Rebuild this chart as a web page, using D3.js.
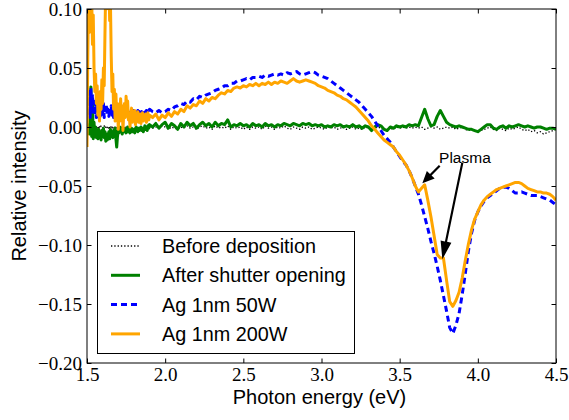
<!DOCTYPE html>
<html><head><meta charset="utf-8">
<script src="https://cdn.jsdelivr.net/npm/d3@7"></script>
<style>body{margin:0;background:#fff} svg{display:block}</style>
</head><body><svg id="c" width="569" height="420"></svg>
<script>
// ---------------- DATA ----------------
const energyFine = [
1.500,1.505,1.510,1.515,1.520,1.525,1.530,1.535,1.540,1.545,
1.550,1.555,1.560,1.565,1.570,1.575,1.580,1.585,1.590,1.595,
1.600,1.605,1.610,1.615,1.620,1.625,1.630,1.635,1.640,1.645,
1.650,1.655,1.660,1.665,1.670,1.675,1.680,1.685,1.690,1.695,
1.700,1.705,1.710,1.715,1.720,1.725,1.730,1.735,1.740,1.745,
1.750,1.755,1.760,1.765,1.770,1.775,1.780,1.785,1.790,1.795,
1.800,1.805,1.810,1.815,1.820,1.825,1.830,1.835,1.840,1.845,
1.850,1.855,1.860,1.865,1.870,1.875,1.880,1.885,1.890,1.895,
1.900];
const energyCoarse = [
1.92,1.94,1.96,1.98,2.00,2.02,2.04,2.06,2.08,2.10,
2.12,2.14,2.16,2.18,2.20,2.22,2.24,2.26,2.28,2.30,
2.32,2.34,2.36,2.38,2.40,2.42,2.44,2.46,2.48,2.50,
2.52,2.54,2.56,2.58,2.60,2.62,2.64,2.66,2.68,2.70,
2.72,2.74,2.76,2.78,2.80,2.82,2.84,2.86,2.88,2.90,
2.92,2.94,2.96,2.98,3.00,3.02,3.04,3.06,3.08,3.10,
3.12,3.14,3.16,3.18,3.20,3.22,3.24,3.26,3.28,3.30,
3.32,3.34,3.36,3.38,3.40,3.42,3.44,3.46,3.48,3.50,
3.52,3.54,3.56,3.58,3.60,3.62,3.64,3.66,3.68,3.70,
3.72,3.74,3.76,3.78,3.80,3.82,3.84,3.86,3.88,3.90,
3.92,3.94,3.96,3.98,4.00,4.02,4.04,4.06,4.08,4.10,
4.12,4.14,4.16,4.18,4.20,4.22,4.24,4.26,4.28,4.30,
4.32,4.34,4.36,4.38,4.40,4.42,4.44,4.46,4.48,4.50];

// Before deposition
const beforeFine = [
0.000,0.002,-0.001,0.001,0.003,-0.002,0.001,0.000,-0.001,0.001,
0.000,-0.001,0.001,0.000,-0.002,0.001,0.000,-0.001,0.001,0.000,
-0.001,0.000,0.001,-0.001,0.000,0.001,-0.001,0.000,-0.002,0.000,
0.001,-0.001,0.000,-0.002,0.000,-0.001,0.001,-0.001,0.000,-0.002,
-0.001,0.000,-0.002,-0.001,0.000,-0.002,-0.001,0.000,-0.001,-0.002,
0.000,-0.001,-0.002,0.000,-0.001,-0.002,-0.001,0.000,-0.002,-0.001,
-0.001,-0.002,0.000,-0.001,-0.002,-0.001,0.000,-0.001,-0.002,-0.001,
0.000,-0.001,-0.002,-0.001,0.000,-0.001,-0.002,0.000,-0.001,-0.001,
0.000];
const beforeCoarse = [
-0.001,0.000,-0.001,0.001,0.000,-0.002,0.000,-0.001,-0.002,0.000,
-0.001,0.001,-0.001,0.000,-0.002,0.000,0.001,-0.001,0.000,-0.002,
0.001,-0.001,0.000,-0.001,0.001,-0.002,0.000,-0.001,0.000,-0.002,
0.000,-0.002,0.000,-0.001,0.000,-0.002,0.001,-0.001,0.000,-0.002,
0.000,-0.001,0.001,-0.001,-0.002,0.000,-0.001,-0.002,0.000,-0.001,
0.000,-0.002,-0.001,0.000,-0.001,-0.002,0.000,-0.001,0.000,-0.002,
-0.001,0.000,-0.002,-0.001,0.000,-0.002,-0.001,-0.002,0.000,-0.001,
-0.002,-0.001,0.000,-0.001,-0.002,-0.002,-0.001,-0.002,0.000,-0.001,
0.000,-0.001,0.000,-0.001,0.000,-0.001,0.000,-0.002,-0.001,0.000,
-0.001,0.000,-0.002,-0.001,0.000,-0.001,0.000,-0.002,-0.001,0.000,
-0.002,-0.003,-0.002,-0.003,-0.004,-0.003,-0.002,-0.001,0.000,-0.002,
-0.003,-0.001,-0.002,-0.003,-0.001,-0.002,-0.001,0.000,-0.002,-0.003,
-0.002,-0.004,-0.003,-0.005,-0.004,-0.006,-0.005,-0.004,-0.003,-0.002];

// After shutter opening
const shutterFine = [
0.000,-0.004,0.002,-0.006,0.010,0.034,-0.008,0.020,-0.010,0.004,
-0.008,0.000,-0.009,-0.003,-0.010,-0.002,-0.008,-0.004,-0.011,-0.003,
-0.007,-0.001,-0.009,-0.004,-0.012,-0.006,-0.011,-0.008,-0.004,-0.010,
-0.002,-0.007,-0.004,-0.009,-0.003,-0.006,-0.001,-0.010,-0.017,-0.008,
-0.003,-0.005,0.000,-0.004,-0.002,-0.006,-0.003,-0.001,-0.004,-0.002,
-0.005,-0.003,0.000,-0.004,-0.002,-0.005,-0.003,-0.001,-0.004,-0.002,
-0.003,-0.005,-0.002,0.000,-0.003,-0.004,-0.001,-0.003,-0.002,0.000,
-0.003,-0.001,-0.004,-0.002,0.001,-0.002,0.000,-0.003,0.001,-0.001,
0.002];
const shutterCoarse = [
0.000,0.003,-0.001,0.002,0.004,-0.001,0.003,0.001,-0.002,0.003,
0.000,0.004,0.001,0.003,-0.001,0.002,0.004,0.001,0.003,0.000,
0.004,0.001,0.003,0.002,0.006,0.000,0.002,0.001,0.003,0.001,
0.002,0.000,0.003,0.001,0.002,0.000,0.003,0.001,0.002,0.000,
0.002,0.001,0.003,0.002,0.001,0.003,0.002,0.001,0.003,0.002,
0.003,0.001,0.002,0.001,0.002,0.000,0.001,0.000,0.002,0.001,
0.002,0.000,0.001,0.000,0.002,0.000,0.001,-0.001,0.001,0.000,
-0.003,0.000,0.002,0.001,-0.002,-0.003,0.000,-0.001,0.001,0.000,
0.001,0.000,0.002,0.001,0.002,0.001,0.008,0.015,0.007,0.001,
0.002,0.009,0.014,0.009,0.004,0.002,0.001,0.000,0.001,0.000,
-0.001,-0.002,-0.002,-0.003,-0.004,-0.002,0.000,0.002,0.002,-0.001,
-0.002,0.000,0.001,-0.001,0.001,0.000,0.001,0.002,0.001,0.000,
0.001,0.000,-0.001,0.000,0.000,-0.001,-0.002,-0.001,-0.001,-0.002];

// Ag 1nm 50W
const ag50Fine = [
0.010,0.025,0.012,0.030,0.008,0.033,0.015,0.028,0.010,0.022,
0.012,0.018,0.008,0.016,0.010,0.020,0.006,0.015,0.010,0.018,
0.012,0.020,0.008,0.016,0.012,0.019,0.010,0.015,0.009,0.016,
0.012,0.018,0.010,0.014,0.008,0.013,0.010,0.015,0.011,0.013,
0.009,0.014,0.012,0.016,0.011,0.013,0.010,0.014,0.012,0.015,
0.011,0.013,0.012,0.015,0.011,0.012,0.010,0.013,0.012,0.014,
0.011,0.013,0.010,0.012,0.011,0.014,0.012,0.013,0.010,0.012,
0.013,0.011,0.012,0.014,0.013,0.012,0.014,0.013,0.015,0.014,
0.015];
const ag50Coarse = [
0.013,0.012,0.014,0.012,0.013,0.015,0.014,0.017,0.018,0.020,
0.019,0.022,0.021,0.024,0.023,0.026,0.025,0.027,0.028,0.029,
0.031,0.032,0.033,0.035,0.035,0.037,0.037,0.039,0.039,0.040,
0.041,0.040,0.042,0.042,0.043,0.042,0.044,0.043,0.044,0.045,
0.044,0.045,0.044,0.046,0.045,0.046,0.047,0.045,0.044,0.045,
0.046,0.047,0.046,0.044,0.043,0.042,0.041,0.039,0.037,0.035,
0.033,0.031,0.029,0.027,0.025,0.023,0.021,0.018,0.015,0.012,
0.009,0.005,0.001,-0.003,-0.007,-0.010,-0.013,-0.017,-0.021,-0.025,
-0.029,-0.032,-0.037,-0.043,-0.050,-0.057,-0.066,-0.076,-0.086,-0.097,
-0.107,-0.118,-0.130,-0.143,-0.156,-0.170,-0.175,-0.168,-0.158,-0.142,
-0.124,-0.105,-0.090,-0.079,-0.072,-0.067,-0.063,-0.060,-0.058,-0.056,
-0.054,-0.052,-0.051,-0.051,-0.052,-0.054,-0.056,-0.056,-0.055,-0.056,
-0.057,-0.058,-0.058,-0.058,-0.059,-0.060,-0.061,-0.062,-0.064,-0.066];

// Ag 1nm 200W
const ag200Fine = [
-0.017,0.060,0.110,0.080,0.120,0.090,0.110,0.070,0.095,0.050,
0.030,0.045,0.020,0.035,0.010,0.025,0.005,0.030,0.015,0.040,
0.020,0.050,0.035,0.080,0.120,0.100,0.130,0.110,0.125,0.090,
0.105,0.060,0.030,0.045,0.015,0.032,0.005,0.028,0.010,0.020,
-0.002,0.015,0.005,0.024,0.010,0.018,-0.003,0.012,0.020,0.008,
0.026,0.014,0.022,0.006,0.012,0.000,0.010,0.016,0.004,0.012,
0.008,0.014,0.002,0.010,0.006,0.013,0.004,0.009,0.011,0.003,
0.008,0.012,0.005,0.010,0.007,0.011,0.004,0.009,0.012,0.006,
0.010];
const ag200Coarse = [
0.008,0.011,0.006,0.010,0.008,0.012,0.009,0.013,0.011,0.015,
0.013,0.018,0.016,0.019,0.018,0.022,0.020,0.024,0.022,0.025,
0.024,0.027,0.029,0.028,0.031,0.030,0.033,0.034,0.033,0.035,
0.034,0.036,0.035,0.037,0.035,0.037,0.036,0.038,0.036,0.038,
0.037,0.039,0.038,0.037,0.039,0.041,0.039,0.038,0.039,0.040,
0.039,0.038,0.037,0.035,0.034,0.033,0.031,0.030,0.029,0.027,
0.026,0.024,0.023,0.021,0.019,0.017,0.014,0.011,0.008,0.005,
0.001,-0.002,-0.005,-0.008,-0.011,-0.013,-0.015,-0.017,-0.021,-0.024,
-0.028,-0.032,-0.037,-0.043,-0.050,-0.055,-0.052,-0.049,-0.062,-0.076,
-0.092,-0.108,-0.111,-0.111,-0.130,-0.148,-0.152,-0.147,-0.140,-0.128,
-0.113,-0.099,-0.087,-0.078,-0.072,-0.066,-0.062,-0.059,-0.057,-0.055,
-0.053,-0.052,-0.051,-0.050,-0.049,-0.048,-0.047,-0.047,-0.048,-0.050,
-0.052,-0.053,-0.054,-0.055,-0.055,-0.056,-0.056,-0.057,-0.059,-0.062];

const seriesNames = ["Before deposition","After shutter opening","Ag 1nm 50W","Ag 1nm 200W"];
const xTicks = [1.5,2.0,2.5,3.0,3.5,4.0,4.5];
const yTicks = [-0.20,-0.15,-0.10,-0.05,0.00,0.05,0.10];
const xLabel = "Photon energy (eV)";
const yLabel = "Relative intensity";
const annotationText = "Plasma";
const annotationTextAt = [3.752,-0.0301];
const arrowTails = [[3.756,-0.0328],[3.901,-0.0302]];
const arrowTips  = [[3.645,-0.0477],[3.773,-0.1121]];

// ---------------- CHART ----------------
const svg = d3.select("#c");
const M = {l:87, r:556, t:9, b:363};
const x = d3.scaleLinear().domain([1.5,4.5]).range([M.l,M.r]);
const y = d3.scaleLinear().domain([-0.2,0.1]).range([M.b,M.t]);

const energy = energyFine.concat(energyCoarse);
const mk = (f,c) => energy.map((e,i)=>[e, f.concat(c)[i]]);
const series = [
  {name:seriesNames[0], pts:mk(beforeFine,beforeCoarse), color:"#000", w:1.3, dash:"1.3,2"},
  {name:seriesNames[1], pts:mk(shutterFine,shutterCoarse), color:"#008000", w:3, dash:null},
  {name:seriesNames[2], pts:mk(ag50Fine,ag50Coarse), color:"#0000ff", w:3, dash:"6,4"},
  {name:seriesNames[3], pts:mk(ag200Fine,ag200Coarse), color:"#ffa500", w:3, dash:null}
];

svg.append("defs").append("clipPath").attr("id","clip")
  .append("rect").attr("x",M.l).attr("y",M.t).attr("width",M.r-M.l).attr("height",M.b-M.t);

const line = d3.line().x(d=>x(d[0])).y(d=>y(d[1]));
const gLines = svg.append("g").attr("clip-path","url(#clip)");
series.forEach(s=>{
  gLines.append("path").datum(s.pts).attr("d",line)
    .attr("fill","none").attr("stroke",s.color).attr("stroke-width",s.w)
    .attr("stroke-linejoin","round")
    .attr("stroke-dasharray",s.dash);
});

// axes
const tickFont = "'Liberation Serif', 'DejaVu Serif', serif";
const styleAxis = g => {
  g.select(".domain").remove();
  g.selectAll(".tick line").attr("stroke","#000").attr("stroke-width",1);
  g.selectAll(".tick text").attr("fill","#000").style("font-family",tickFont).style("font-size","19px");
};
svg.append("g").attr("transform",`translate(0,${M.b})`)
  .call(d3.axisBottom(x).tickValues(xTicks).tickSize(-4.5).tickPadding(4.5).tickFormat(d3.format(".1f"))).call(styleAxis);
svg.append("g").attr("transform",`translate(0,${M.t})`)
  .call(d3.axisTop(x).tickValues(xTicks).tickSize(-4.5).tickFormat("")).call(styleAxis);
svg.append("g").attr("transform",`translate(${M.l},0)`)
  .call(d3.axisLeft(y).tickValues(yTicks).tickSize(-4.5).tickPadding(5).tickFormat(d3.format(".2f"))).call(styleAxis);
svg.append("g").attr("transform",`translate(${M.r},0)`)
  .call(d3.axisRight(y).tickValues(yTicks).tickSize(-4.5).tickFormat("")).call(styleAxis);

// frame
svg.append("rect").attr("x",M.l).attr("y",M.t).attr("width",M.r-M.l).attr("height",M.b-M.t)
  .attr("fill","none").attr("stroke","#000").attr("stroke-width",1);

// labels
const sans = "'Liberation Sans', Arial, sans-serif";
svg.append("text").attr("x",(M.l+M.r)/2 - 2).attr("y",404).attr("text-anchor","middle")
  .style("font-family",sans).style("font-size","20px").text(xLabel);
svg.append("text").attr("transform",`translate(25.5,${(M.t+M.b)/2}) rotate(-90)`).attr("text-anchor","middle")
  .style("font-family",sans).style("font-size","20px").text(yLabel);

// annotation
svg.append("text").attr("x",x(annotationTextAt[0])).attr("y",y(annotationTextAt[1]))
  .style("font-family",sans).style("font-size","15.5px").text(annotationText);
arrowTails.forEach((t,i)=>{
  const x0=x(t[0]), y0=y(t[1]), x1=x(arrowTips[i][0]), y1=y(arrowTips[i][1]);
  const dx=x1-x0, dy=y1-y0, L=Math.hypot(dx,dy), ux=dx/L, uy=dy/L, px=-uy, py=ux;
  const hl = i===0 ? 12 : 18, hw = 5.5, sw = 1.1;
  const bx = x1-ux*hl, by = y1-uy*hl;
  const pts = [
    [x0+px*sw,y0+py*sw],[bx+px*sw,by+py*sw],[bx+px*hw,by+py*hw],[x1,y1],
    [bx-px*hw,by-py*hw],[bx-px*sw,by-py*sw],[x0-px*sw,y0-py*sw]];
  svg.append("polygon").attr("points",pts.map(p=>p.join(",")).join(" ")).attr("fill","#000");
});

// legend
const LG = {x:97, y:231, w:257, h:122};
svg.append("rect").attr("x",LG.x+0.5).attr("y",LG.y+0.5).attr("width",LG.w).attr("height",LG.h)
  .attr("fill","#fff").attr("stroke","#000").attr("stroke-width",1);
series.forEach((s,i)=>{
  const cy = 246 + i*29.3;
  svg.append("line").attr("x1",111).attr("x2",140).attr("y1",cy).attr("y2",cy)
    .attr("stroke",s.color).attr("stroke-width",s.w).attr("stroke-dasharray",s.dash);
  svg.append("text").attr("x",162).attr("y",cy+7)
    .style("font-family",sans).style("font-size","19.8px").text(s.name);
});
</script></body></html>
